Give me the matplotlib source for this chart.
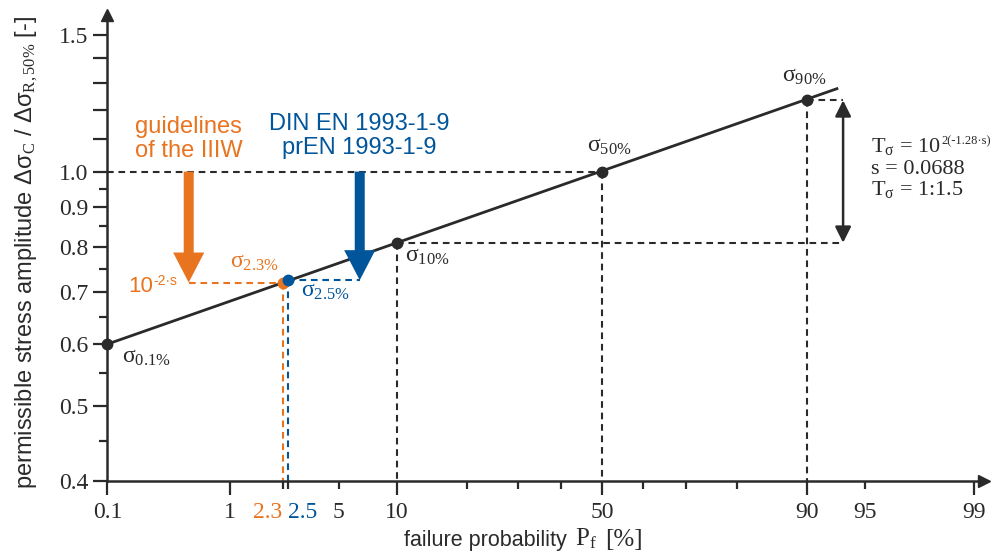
import numpy as np
import matplotlib
matplotlib.use("Agg")
import matplotlib.pyplot as plt
from matplotlib.ticker import FixedLocator, FixedFormatter, NullFormatter
from statistics import NormalDist

# ---- data -------------------------------------------------------------
# straight S-N scatter line on probability paper: failure probability [%] vs. normalised stress
line_p = [0.1, 93.0]
line_s = [0.6, 1.28]

# characteristic quantiles on the line
quantile_p = [0.1, 10, 50, 90]
quantile_s = [0.6, 0.81, 1.0, 1.235]
quantile_names = ["0.1%", "10%", "50%", "90%"]

# design values of the two codes
iiw_p, iiw_s = 2.3, 0.72      # guidelines of the IIW
en_p, en_s = 2.5, 0.725       # DIN EN / prEN 1993-1-9
iiw_arrow_p = 0.49
en_arrow_p = 6.5
scatter_arrow_p = 93.4
ref_level = 1.0

x_major = [0.1, 1, 10, 50, 90, 99]
x_major_labels = ["0.1", "1", "10", "50", "90", "99"]
x_minor = [2.3, 2.5, 5, 20, 30, 40, 60, 70, 80, 95]
x_minor_labels = ["2.3", "2.5", "5", "", "", "", "", "", "", "95"]
y_major = [0.4, 0.5, 0.6, 0.7, 0.8, 0.9, 1.0, 1.1, 1.2, 1.3, 1.4, 1.5]
y_major_labels = ["0.4", "0.5", "0.6", "0.7", "0.8", "0.9", "1.0", "", "", "", "", "1.5"]
y_minor = [0.45, 0.55, 0.65, 0.75, 0.85, 0.95]

# ---- style ------------------------------------------------------------
BLACK = "#2a2a2a"
ORANGE = "#e8741f"
BLUE = "#00559b"
SERIF = "Liberation Serif"
SANS = "Liberation Sans"

plt.rcParams["mathtext.fontset"] = "custom"
plt.rcParams["mathtext.rm"] = SERIF
plt.rcParams["mathtext.it"] = SERIF + ":italic"
plt.rcParams["mathtext.sf"] = SANS
plt.rcParams["font.family"] = [SANS, "DejaVu Sans"]

_nd = NormalDist()


def _to_z(p):
    p = np.clip(np.asarray(p, dtype=float) / 100.0, 1e-12, 1 - 1e-12)
    return np.vectorize(_nd.inv_cdf, otypes=[float])(p)


def _from_z(z):
    return np.vectorize(_nd.cdf, otypes=[float])(np.asarray(z, dtype=float)) * 100.0


W, H = 995, 558
fig = plt.figure(figsize=(W / 100, H / 100), dpi=100)
ax = fig.add_axes([0.10804, 0.13799, 0.88090, 0.83513])
ax.set_xscale("function", functions=(_to_z, _from_z))
ax.set_yscale("log")
ax.set_xlim(0.1, 99.15)
ax.set_ylim(0.4, 1.59)

# axes: only left and bottom, with arrow heads
for side in ("top", "right"):
    ax.spines[side].set_visible(False)
for side in ("left", "bottom"):
    ax.spines[side].set_linewidth(1.8)
    ax.spines[side].set_color(BLACK)
ax.plot(0, 1, "^", ms=9, color=BLACK, transform=ax.transAxes, clip_on=False, zorder=6)
ax.plot(1, 0, ">", ms=9, color=BLACK, transform=ax.transAxes, clip_on=False, zorder=6)

# ticks
ax.xaxis.set_major_locator(FixedLocator(x_major))
ax.xaxis.set_major_formatter(FixedFormatter(x_major_labels))
ax.xaxis.set_minor_locator(FixedLocator(x_minor))
ax.xaxis.set_minor_formatter(FixedFormatter(x_minor_labels))
ax.yaxis.set_major_locator(FixedLocator(y_major))
ax.yaxis.set_major_formatter(FixedFormatter(y_major_labels))
ax.yaxis.set_minor_locator(FixedLocator(y_minor))
ax.yaxis.set_minor_formatter(NullFormatter())

ax.tick_params(axis="both", which="both", color=BLACK, labelcolor=BLACK, width=1.6,
               labelsize=17)
ax.tick_params(axis="x", which="major", length=10, pad=5)
ax.tick_params(axis="x", which="minor", length=6, pad=9)
ax.tick_params(axis="y", which="major", length=10, pad=4)
ax.tick_params(axis="y", which="minor", length=6)
for lab in ax.get_xticklabels() + ax.get_xticklabels(minor=True) + ax.get_yticklabels():
    lab.set_fontfamily(SERIF)
for lab, txt in zip(ax.get_xticklabels(minor=True), x_minor_labels):
    if txt == "2.3":
        lab.set_color(ORANGE)
        lab.set_horizontalalignment("right")
    elif txt == "2.5":
        lab.set_color(BLUE)
        lab.set_horizontalalignment("left")

dash = (0, (3.2, 2.3))
dkw = dict(lw=1.5, ls=dash, zorder=2)

# reference level and quantile projections
ax.plot([quantile_p[0], quantile_p[2]], [ref_level, ref_level], color=BLACK, **dkw)
for p, s in zip(quantile_p[1:], quantile_s[1:]):
    ax.plot([p, p], [s, 0.4], color=BLACK, **dkw)
for p, s in ((quantile_p[1], quantile_s[1]), (quantile_p[3], quantile_s[3])):
    ax.plot([p, scatter_arrow_p], [s, s], color=BLACK, **dkw)

# code design values
ax.plot([iiw_arrow_p, iiw_p], [iiw_s, iiw_s], color=ORANGE, **dkw)
ax.plot([iiw_p, iiw_p], [iiw_s, 0.4], color=ORANGE, **dkw)
ax.plot([en_p, en_arrow_p], [en_s, en_s], color=BLUE, **dkw)
ax.plot([en_p, en_p], [en_s, 0.4], color=BLUE, **dkw)

# scatter line and quantile points
ax.plot(line_p, line_s, color=BLACK, lw=2.0, zorder=3, solid_capstyle="butt")
ax.plot(quantile_p, quantile_s, "o", ms=7.5, color=BLACK, zorder=5, clip_on=False)
ax.plot([iiw_p], [iiw_s], "o", ms=7.5, color=ORANGE, zorder=5)
ax.plot([en_p], [en_s], "o", ms=7.5, color=BLUE, zorder=5)

# thick reduction arrows
fat = "simple,head_length=1.08,head_width=1.12,tail_width=0.36"
for p, s, c in ((iiw_arrow_p, iiw_s, ORANGE), (en_arrow_p, en_s, BLUE)):
    ax.annotate("", xy=(p, s), xytext=(p, ref_level),
                arrowprops=dict(arrowstyle=fat, mutation_scale=20, color=c, lw=0,
                                shrinkA=0, shrinkB=0), zorder=4)

# scatter band arrow
ax.annotate("", xy=(scatter_arrow_p, quantile_s[1]), xytext=(scatter_arrow_p, quantile_s[3]),
            arrowprops=dict(arrowstyle="<|-|>,head_length=0.8,head_width=0.4",
                            mutation_scale=12, color=BLACK, lw=1.8,
                            shrinkA=0, shrinkB=0), zorder=4)


# quantile labels
def sigma_label(txt, p, s, dx, dy, ha="left", color=BLACK):
    ax.annotate(r"$\mathrm{σ}_{\mathrm{" + txt.replace("%", r"\%") + "}}$",
                xy=(p, s), xytext=(dx, dy), textcoords="offset points",
                ha=ha, va="baseline", fontsize=17, color=color)


offsets = [(10.8, -13.7), (5.8, -13.3), (-10.8, 14.4), (-18, 13.7)]
for name, p, s, (dx, dy) in zip(quantile_names, quantile_p, quantile_s, offsets):
    sigma_label(name, p, s, dx, dy)
sigma_label("2.3%", iiw_p, iiw_s, -2.7, 10.4, ha="right", color=ORANGE)
sigma_label("2.5%", en_p, en_s, 9.4, -12.2, color=BLUE)

# 10^(-2s) reduction factor
t10 = ax.annotate("10", xy=(iiw_arrow_p, iiw_s), xytext=(-25.7, -6.8),
                  textcoords="offset points", ha="right", va="baseline",
                  fontsize=16, color=ORANGE)
ax.annotate("-2·s", xy=(1, 1), xycoords=t10, xytext=(0.3, 1.5),
            textcoords="offset points", ha="left", va="top", fontsize=10, color=ORANGE)

# code names
ax.annotate("guidelines\nof the IIIW", xy=(iiw_arrow_p, ref_level), xytext=(0, 7),
            textcoords="offset points", ha="center", va="bottom", fontsize=17,
            color=ORANGE, linespacing=1.1)
ax.annotate("DIN EN 1993-1-9\nprEN 1993-1-9", xy=(en_arrow_p, ref_level), xytext=(0, 9),
            textcoords="offset points", ha="center", va="bottom", fontsize=17,
            color=BLUE, linespacing=1.1)

# scatter definition
eq_x = 871 / W
t_eq = fig.text(eq_x, 1 - 152 / H, r"$\mathrm{T}_{\mathrm{σ}}$ = 10", fontfamily=SERIF,
                fontsize=16, color=BLACK, va="baseline")
ax.annotate("2(-1.28·s)", xy=(1, 1), xycoords=t_eq, xytext=(0.2, 0.5),
            textcoords="offset points", ha="left", va="top", fontsize=9,
            fontfamily=SERIF, color=BLACK)
fig.text(eq_x, 1 - 174 / H, "s = 0.0688", fontfamily=SERIF, fontsize=16,
         color=BLACK, va="baseline")
fig.text(eq_x, 1 - 195 / H, r"$\mathrm{T}_{\mathrm{σ}}$ = 1:1.5", fontfamily=SERIF,
         fontsize=16, color=BLACK, va="baseline")

# axis titles
t_xl = fig.text(404 / W, 12 / H, "failure probability", fontsize=15.5, color=BLACK,
                ha="left", va="baseline")
t_pf = ax.annotate(r"$\mathrm{P}_{\mathrm{f}}$", xy=(1, 0), xycoords=t_xl,
                   xytext=(6, 0), textcoords="offset points", fontsize=18,
                   color=BLACK, ha="left", va="bottom")
ax.annotate("[%]", xy=(1, 0), xycoords=t_pf, xytext=(6, 0), textcoords="offset points",
            fontfamily=SERIF, fontsize=18, color=BLACK, ha="left", va="bottom")
fig.text(27 / W, 1 - 252 / H,
         r"permissible stress amplitude Δ$\mathsf{σ}_{\mathrm{C}}$ / Δ$\mathsf{σ}_{\mathrm{R,50\%}}$ [-]",
         rotation=90, ha="center", va="center", fontsize=17, color=BLACK)

fig.savefig("out.png", dpi=100)
